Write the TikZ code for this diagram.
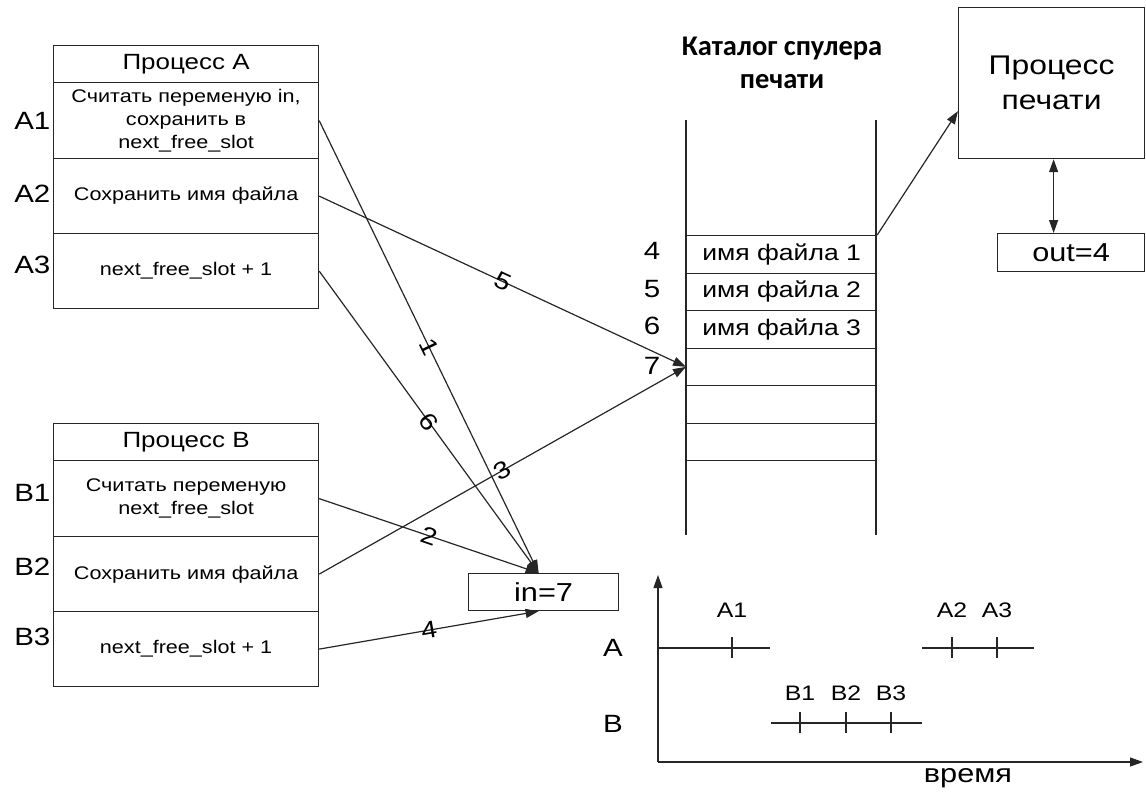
\documentclass[tikz,border=0pt]{standalone}
\usepackage{fontspec}
\setmainfont{Liberation Sans}[FakeStretch=1.18]
\newfontfamily\titlefont{Carlito}
\usetikzlibrary{arrows.meta}
\begin{document}
\begin{tikzpicture}[x=1pt,y=-1pt,line width=1.2pt,draw=black!85,
  box/.style={draw,inner sep=0pt,anchor=north west,align=center},
  hdr/.style={box,minimum width=265pt,minimum height=37pt,font=\fontsize{22}{26}\selectfont},
  cell/.style={box,minimum width=265pt,minimum height=75pt,font=\fontsize{18.3}{23}\selectfont},
  side/.style={anchor=east,inner sep=0pt,font=\fontsize{25}{28}\selectfont},
  slot/.style={box,minimum width=190pt,minimum height=37.5pt,font=\fontsize{22.5}{26}\selectfont},
  num/.style={inner sep=0pt,font=\fontsize{25}{28}\selectfont},
  lbl/.style={inner sep=0pt,sloped,midway,font=\fontsize{24}{26}\selectfont},
  conn/.style={-{Triangle[length=13pt,width=9pt]}},
  tick/.style={inner sep=0pt,font=\fontsize{21}{24}\selectfont}]
\useasboundingbox (0,0) rectangle (1146,796);
% Process A
\node[hdr] (pa) at (53,45) {Процесс A};
\node[cell,minimum height=76pt] (a1) at (53,82) {Считать переменую in,\\сохранить в\\next\_free\_slot};
\node[cell] (a2) at (53,158) {Сохранить имя файла};
\node[cell] (a3) at (53,233) {next\_free\_slot + 1};
\node[side] (la1) at (51,121) {A1};
\node[side] (la2) at (51,194) {A2};
\node[side] (la3) at (51,265) {A3};
% Process B
\node[hdr] (pb) at (53,423) {Процесс B};
\node[cell,minimum height=76pt] (b1) at (53,460) {Считать переменую\\next\_free\_slot};
\node[cell] (b2) at (53,536) {Сохранить имя файла};
\node[cell] (b3) at (53,611) {next\_free\_slot + 1};
\node[side] (lb1) at (51,493) {B1};
\node[side] (lb2) at (51,567) {B2};
\node[side] (lb3) at (51,637) {B3};
% in=7
\node[box,minimum width=150pt,minimum height=37pt,font=\fontsize{26}{28}\selectfont] (in7) at (468,573) {in=7};
% Catalog
\node[align=center,font=\titlefont\bfseries\fontsize{28.5}{33}\selectfont] (title) at (782,63) {Каталог спулера\\печати};
\coordinate (ctl) at (686,120);
\coordinate (cbl) at (686,535);
\coordinate (ctr) at (876,120);
\coordinate (cbr) at (876,535);
\draw (ctl) -- (cbl);
\draw (ctr) -- (cbr);
\node[slot] (r4) at (686,235) {имя файла 1};
\node[slot] (r5) at (686,272.5) {имя файла 2};
\node[slot] (r6) at (686,310) {имя файла 3};
\node[slot] (r7) at (686,347.5) {};
\node[slot] (r8) at (686,385) {};
\node[slot] (r9) at (686,422.5) {};
\node[num] (n4) at (652,251) {4};
\node[num] (n5) at (652,289) {5};
\node[num] (n6) at (652,326) {6};
\node[num] (n7) at (652,366) {7};
% Print process
\node[box,minimum width=186pt,minimum height=151pt,font=\fontsize{27}{35}\selectfont] (pp) at (958,7) {Процесс\\печати};
\node[box,minimum width=147pt,minimum height=38pt,font=\fontsize{26}{28}\selectfont] (out) at (997,233) {out=4};
\draw[{Triangle[length=13pt,width=9pt]}-{Triangle[length=13pt,width=9pt]}] ([xshift=2pt]pp.south) -- ([xshift=2pt]pp.south |- out.north);
\draw[conn] (r4.north east) -- ([yshift=-28pt]pp.west);
% connectors
\draw[conn] (a1.east) -- node[lbl] {1} ([xshift=-5pt]in7.north);
\draw[conn] (a2.east) -- node[lbl] {5} (r7.west);
\draw[conn] (a3.east) -- node[lbl] {6} ([xshift=-5pt]in7.north);
\draw[conn] (b1.east) -- node[lbl] {2} ([xshift=-5pt]in7.north);
\draw[conn] (b2.east) -- node[lbl] {3} (r7.west);
\draw[conn] (b3.east) -- node[lbl] {4} ([xshift=-5pt]in7.south);
% Timeline
\coordinate (o) at (658,762);
\coordinate (ytop) at (658,575);
\coordinate (xend) at (1143,762);
\draw[conn] (o) -- (ytop);
\draw[conn] (o) -- (xend);
\draw (658,648) -- (770,648);
\draw (922,648) -- (1034,648);
\draw (771,723) -- (922,723);
\foreach \x/\y in {732/648,952/648,997/648,800/723,846/723,891/723}
  \draw (\x,\y-11) -- (\x,\y+10);
\node[tick] (ta1) at (732,610) {A1};
\node[tick] (ta2) at (952,610) {A2};
\node[tick] (ta3) at (997,610) {A3};
\node[tick] (tb1) at (800,693) {B1};
\node[tick] (tb2) at (846,693) {B2};
\node[tick] (tb3) at (891,693) {B3};
\node[num] (axa) at (613,648) {A};
\node[num] (axb) at (613,724) {B};
\node[num,font=\fontsize{26}{28}\selectfont] (time) at (968,778) {время};
\end{tikzpicture}
\end{document}
